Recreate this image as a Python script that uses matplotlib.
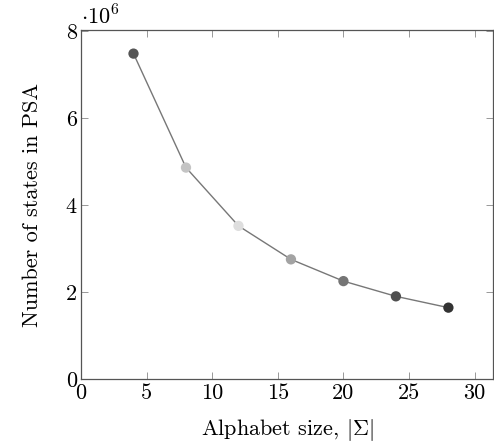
import matplotlib
matplotlib.use("Agg")
import matplotlib.pyplot as plt

plt.rcParams['font.family'] = 'serif'
plt.rcParams['font.serif'] = ['cmr10']
plt.rcParams['mathtext.fontset'] = 'cm'
plt.rcParams['axes.unicode_minus'] = False

# data
alphabet_size = [4, 8, 12, 16, 20, 24, 28]
n_states = [7.48, 4.86, 3.52, 2.75, 2.25, 1.90, 1.64]   # x 10^6
point_colors = ['#555555', '#c4c4c4', '#dedede', '#a3a3a3', '#757575', '#505050', '#333333']
x_ticks = [0, 5, 10, 15, 20, 25, 30]
y_ticks = [0, 2, 4, 6, 8]

fig = plt.figure(figsize=(4.94, 4.43), dpi=100)
ax = fig.add_axes([0.164, 0.1445, 0.834, 0.7875])

ax.plot(alphabet_size, n_states, color='#777777', lw=1.0, zorder=2)
ax.scatter(alphabet_size, n_states, c=point_colors, s=55, zorder=3, linewidths=0)

ax.set_xlim(0, 31.4)
ax.set_ylim(0, 8.02)
ax.set_xticks(x_ticks)
ax.set_yticks(y_ticks)
ax.tick_params(direction='in', top=True, right=True, length=5, width=0.6,
               color='#888888', labelsize=16, pad=3)
for s in ax.spines.values():
    s.set_color('#555555')
    s.set_linewidth(0.9)

ax.set_xlabel(r'Alphabet size, $|\Sigma|$', fontsize=16, labelpad=10)
ax.set_ylabel('Number of states in PSA', fontsize=16, labelpad=17)
ax.text(0.0, 1.005, r'$\cdot 10^{6}$', transform=ax.transAxes, fontsize=16,
        ha='left', va='bottom')

fig.savefig('out.png', dpi=100)
